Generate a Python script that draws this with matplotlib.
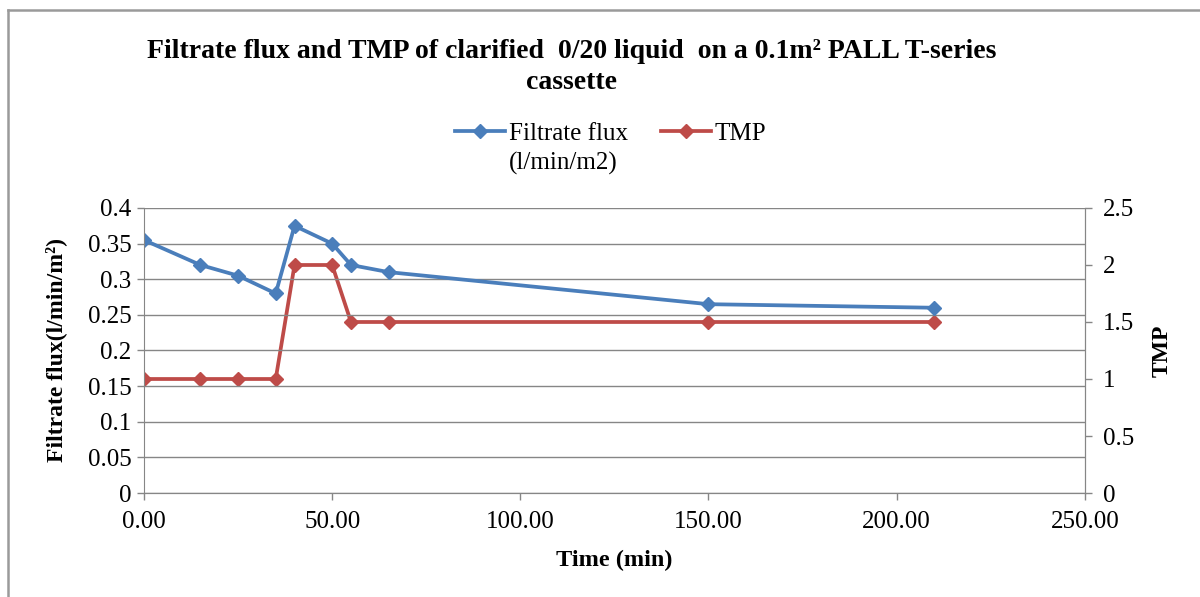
import matplotlib
matplotlib.use("Agg")
import matplotlib.pyplot as plt
from matplotlib.lines import Line2D
from matplotlib.ticker import FormatStrFormatter, MultipleLocator

plt.rcParams['font.family'] = ['Liberation Serif', 'DejaVu Serif']

# data
time_min = [0, 15, 25, 35, 40, 50, 55, 65, 150, 210]
flux = [0.355, 0.32, 0.305, 0.28, 0.375, 0.35, 0.32, 0.31, 0.265, 0.26]
tmp = [1, 1, 1, 1, 2, 2, 1.5, 1.5, 1.5, 1.5]

blue = '#4a7ebb'
red = '#be4b48'
grid_c = '#868686'

fig = plt.figure(figsize=(12, 5.97), dpi=100)
ax = fig.add_axes([0.12, 0.1742, 0.784, 0.4774])
ax2 = ax.twinx()

l1, = ax.plot(time_min, flux, color=blue, lw=2.7, marker='D', ms=7.5, label='Filtrate flux')
l2, = ax2.plot(time_min, tmp, color=red, lw=2.7, marker='D', ms=7.5, label='TMP')
ax.set_zorder(ax2.get_zorder() + 1)
ax.patch.set_visible(False)

ax.set_xlim(0, 250)
ax.set_ylim(0, 0.4)
ax2.set_ylim(0, 2.5)
ax.xaxis.set_major_locator(MultipleLocator(50))
ax.xaxis.set_major_formatter(FormatStrFormatter('%.2f'))
ax.yaxis.set_major_locator(MultipleLocator(0.05))
ax.yaxis.set_major_formatter(FormatStrFormatter('%g'))
ax2.yaxis.set_major_locator(MultipleLocator(0.5))
ax2.yaxis.set_major_formatter(FormatStrFormatter('%g'))

ax.grid(axis='y', color=grid_c, lw=1)
ax.set_axisbelow(True)
for a in (ax, ax2):
    a.spines['top'].set_visible(False)
    for s in ('left', 'right', 'bottom'):
        a.spines[s].set_color(grid_c)
    a.tick_params(colors=grid_c, labelcolor='black', labelsize=18, length=5, width=1)
ax2.spines['left'].set_visible(False)
ax.tick_params(axis='x', pad=8)
ax.tick_params(axis='y', pad=4)
ax2.tick_params(axis='y', pad=8)

ax.set_xlabel('Time (min)', fontsize=17.5, fontweight='bold', labelpad=12)
ax.set_ylabel('Filtrate flux(l/min/m²)', fontsize=17, fontweight='bold', labelpad=15)
ax2.set_ylabel('TMP', fontsize=17, fontweight='bold', labelpad=13, rotation=90)

fig.text(0.476, 0.935, 'Filtrate flux and TMP of clarified  0/20 liquid  on a 0.1m² PALL T-series\ncassette',
         ha='center', va='top', fontsize=20, fontweight='bold', linespacing=1.3)

leg = fig.legend(handles=[l1, l2], loc='center', bbox_to_anchor=(0.509, 0.776), ncol=2,
                 frameon=False, fontsize=18, handlelength=2.0, handletextpad=0.15,
                 columnspacing=1.3)

# second line of the first legend entry, placed under its text
fig.canvas.draw()
bb = leg.get_texts()[0].get_window_extent().transformed(fig.transFigure.inverted())
fig.text(bb.x0, bb.y0 - 0.012, '(l/min/m2)', ha='left', va='top', fontsize=18)

# outer chart border (left and top visible)
fig.add_artist(Line2D([0.007, 0.007], [0, 0.983], transform=fig.transFigure,
                      color='#9a9a9a', lw=1.8))
fig.add_artist(Line2D([0.007, 1], [0.983, 0.983], transform=fig.transFigure,
                      color='#9a9a9a', lw=1.8))

fig.savefig('out.png', dpi=100)
